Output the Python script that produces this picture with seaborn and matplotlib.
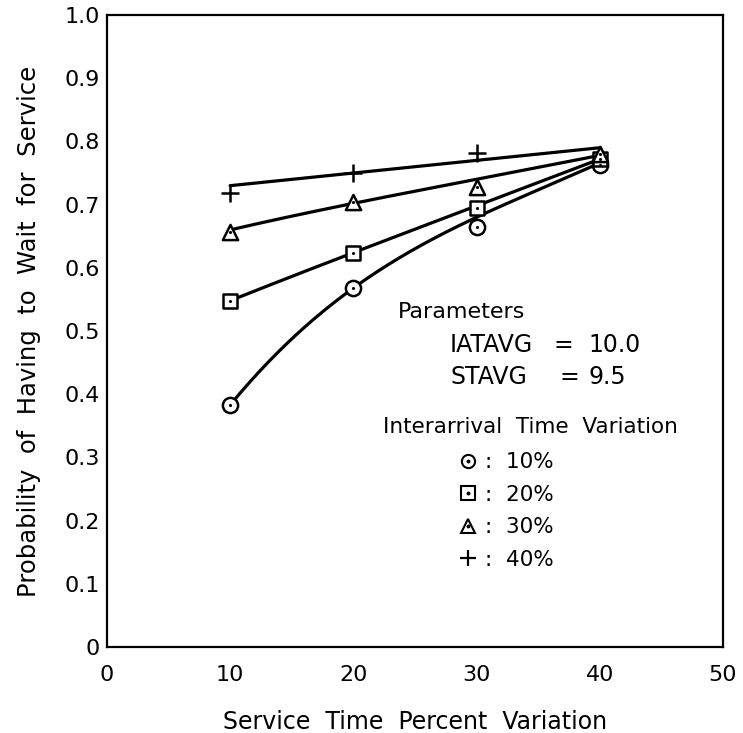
import numpy as np
import pandas as pd
import matplotlib
matplotlib.use("Agg")
import matplotlib.pyplot as plt
import seaborn as sns
from matplotlib.lines import Line2D

# ---- data ----
service_var = [10, 20, 30, 40]
series_labels = ["10%", "20%", "30%", "40%"]
# observed points
pts_10 = [0.383, 0.568, 0.664, 0.762]
pts_20 = [0.548, 0.624, 0.694, 0.772]
pts_30 = [0.657, 0.704, 0.728, 0.780]
pts_40 = [0.718, 0.750, 0.782, 0.790]
# fitted (smoothed) curve values read at the same x positions
fit_10 = [0.383, 0.568, 0.680, 0.766]
fit_20 = [0.548, 0.624, 0.698, 0.772]
fit_30 = [0.660, 0.702, 0.740, 0.778]
fit_40 = [0.730, 0.750, 0.770, 0.790]

x_ticks = [0, 10, 20, 30, 40, 50]
y_ticks = [0, 0.1, 0.2, 0.3, 0.4, 0.5, 0.6, 0.7, 0.8, 0.9, 1.0]
y_tick_labels = ["0", "0.1", "0.2", "0.3", "0.4", "0.5", "0.6", "0.7", "0.8", "0.9", "1.0"]

sns.set_style("white")
plt.rcParams["font.family"] = ["DejaVu Sans"]

fig = plt.figure(figsize=(7.43, 7.33), dpi=100)
ax = fig.add_axes([0.144, 0.1173, 0.829, 0.8622])

pts = [pts_10, pts_20, pts_30, pts_40]
fits = [fit_10, fit_20, fit_30, fit_40]
markers = ["o", "s", "^", "+"]
sizes = [120, 95, 120, 170]

for lab, p, f, m, s in zip(series_labels, pts, fits, markers, sizes):
    coef = np.polyfit(service_var, f, 3)
    xs = np.linspace(service_var[0], service_var[-1], 200)
    curve = pd.DataFrame({"x": xs, "y": np.polyval(coef, xs)})
    sns.lineplot(data=curve, x="x", y="y", ax=ax, color="black", lw=2.3, zorder=2)
    d = pd.DataFrame({"x": service_var, "y": p})
    if m == "+":
        if lab == "40%":
            d = d.iloc[:3]
        sns.scatterplot(data=d, x="x", y="y", ax=ax, marker="+", s=s,
                        color="black", linewidth=1.8, zorder=3)
    else:
        sns.scatterplot(data=d, x="x", y="y", ax=ax, marker=m, s=s,
                        facecolor="white", edgecolor="black", linewidth=1.8, zorder=3)
        sns.scatterplot(data=d, x="x", y="y", ax=ax, marker="o", s=5,
                        color="black", linewidth=0, zorder=4)

ax.set_xlim(0, 50)
ax.set_ylim(0, 1.0)
ax.set_xticks(x_ticks)
ax.set_xticklabels([str(v) for v in x_ticks])
ax.set_yticks(y_ticks)
ax.set_yticklabels(y_tick_labels)
ax.tick_params(axis="both", direction="in", length=9.5, width=1.3, labelsize=16,
               color="black", labelcolor="black")
ax.tick_params(axis="x", pad=13)
ax.tick_params(axis="y", pad=5)
for sp in ax.spines.values():
    sp.set_visible(True)
    sp.set_color("black")
    sp.set_linewidth(1.6)

ax.set_xlabel("Service  Time  Percent  Variation", fontsize=17, labelpad=18, color="black")
ax.set_ylabel("Probability  of  Having  to  Wait  for  Service", fontsize=17.5,
              labelpad=17, color="black")

tk = dict(transform=ax.transAxes, fontsize=16, color="black", va="center", ha="left")
tk2 = dict(tk, fontsize=17)
tk3 = dict(tk, fontsize=15.5)
ax.text(0.472, 0.530, "Parameters", **tk)
ax.text(0.557, 0.478, "IATAVG", **tk2)
ax.text(0.725, 0.478, "=", **tk2)
ax.text(0.781, 0.478, "10.0", **tk2)
ax.text(0.557, 0.427, "STAVG", **tk2)
ax.text(0.735, 0.427, "=", **tk2)
ax.text(0.781, 0.427, "9.5", **tk2)
ax.text(0.448, 0.348, "Interarrival  Time  Variation", **tk3)

handles = []
for m in markers:
    if m == "+":
        handles.append(Line2D([], [], marker="+", ls="none", ms=11, mew=1.6, color="black"))
    else:
        outer = Line2D([], [], marker=m, ls="none", ms=9.5, mfc="white", mec="black", mew=1.5)
        dot = Line2D([], [], marker="o", ls="none", ms=1.8, color="black")
        handles.append((outer, dot))
ax.legend(handles, [":  " + l for l in series_labels], loc="upper left",
          bbox_to_anchor=(0.568, 0.308), frameon=False, borderpad=0, borderaxespad=0,
          handlelength=1.0, handletextpad=0.3, labelspacing=0.58, fontsize=15.5,
          labelcolor="black")

fig.savefig("out.png", dpi=100, facecolor="white")
